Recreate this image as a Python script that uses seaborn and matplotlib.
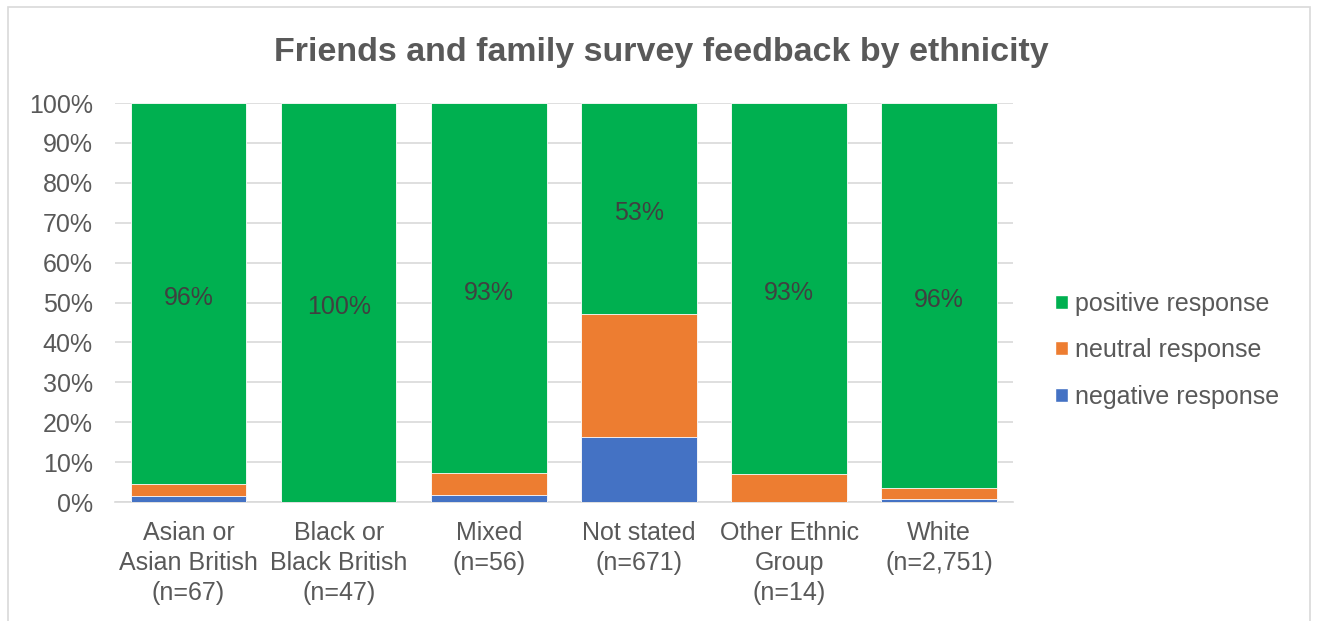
import matplotlib
matplotlib.use("Agg")
import matplotlib.pyplot as plt
import seaborn as sns
import pandas as pd
from matplotlib.patches import Rectangle, Patch

categories = [
    "Asian or\nAsian British\n(n=67)",
    "Black or\nBlack British\n(n=47)",
    "Mixed\n(n=56)",
    "Not stated\n(n=671)",
    "Other Ethnic\nGroup\n(n=14)",
    "White\n(n=2,751)",
]
negative = [1.5, 0.0, 1.8, 16.4, 0.0, 0.8]
neutral = [3.0, 0.0, 5.4, 30.8, 7.1, 2.8]
positive = [95.5, 100.0, 92.8, 52.8, 92.9, 96.4]
positive_labels = ["96%", "100%", "93%", "53%", "93%", "96%"]

GREEN = "#00B050"
ORANGE = "#ED7D31"
BLUE = "#4472C4"
TEXT = "#595959"

sns.set_theme(style="white")
plt.rcParams["font.family"] = ["Liberation Sans", "DejaVu Sans"]

df = pd.DataFrame({
    "category": categories,
    "negative": negative,
    "neutral": neutral,
    "positive": positive,
})
df["neg_top"] = df["negative"]
df["neu_top"] = df["negative"] + df["neutral"]
df["pos_top"] = df["neu_top"] + df["positive"]

fig = plt.figure(figsize=(13.17, 6.21), dpi=100)
ax = fig.add_axes([0.0873, 0.1916, 0.6817, 0.6425])

# stacked bars: draw cumulative totals back to front
for col, color in [("pos_top", GREEN), ("neu_top", ORANGE), ("neg_top", BLUE)]:
    sns.barplot(data=df, x="category", y=col, color=color, width=0.77,
                saturation=1, edgecolor="white", linewidth=0.6, ax=ax, zorder=3)

for i, (lab, lo, pos) in enumerate(zip(positive_labels, df["neu_top"], df["positive"])):
    ax.text(i, lo + pos / 2 - 1.1, lab, ha="center", va="center",
            fontsize=18, color="#404040", zorder=5)

ax.set_ylim(0, 100)
ax.set_xlim(-0.49, 5.49)
ax.set_yticks(range(0, 101, 10))
ax.set_yticklabels([f"{v}%" for v in range(0, 101, 10)])
ax.yaxis.grid(True, color="#D9D9D9", linewidth=1.2, zorder=0)
ax.set_axisbelow(True)
ax.tick_params(axis="y", length=0, pad=16, labelsize=18, labelcolor=TEXT)
ax.tick_params(axis="x", length=0, pad=14, labelsize=18, labelcolor=TEXT)
for t in ax.get_xticklabels():
    t.set_linespacing(1.3)
ax.set_xlabel("")
ax.set_ylabel("")
for s in ["top", "right", "left"]:
    ax.spines[s].set_visible(False)
ax.spines["bottom"].set_color("#D9D9D9")
ax.spines["bottom"].set_linewidth(1.2)

fig.suptitle("Friends and family survey feedback by ethnicity", x=0.502, y=0.94,
             fontsize=24.5, fontweight="bold", color=TEXT)

handles = [Patch(facecolor=GREEN, label="positive response"),
           Patch(facecolor=ORANGE, label="neutral response"),
           Patch(facecolor=BLUE, label="negative response")]
leg = fig.legend(handles=handles, loc="center left", bbox_to_anchor=(0.784, 0.436),
                 frameon=False, fontsize=18, handlelength=0.5, handleheight=0.5,
                 handletextpad=0.3, labelspacing=0.9)
for t in leg.get_texts():
    t.set_color(TEXT)

fig.patches.append(Rectangle((8 / 1317, -0.05), 1302 / 1317, 1.05 - 7 / 621,
                             transform=fig.transFigure, fill=False,
                             edgecolor="#D9D9D9", linewidth=1.2))

fig.savefig("out.png", dpi=100)
